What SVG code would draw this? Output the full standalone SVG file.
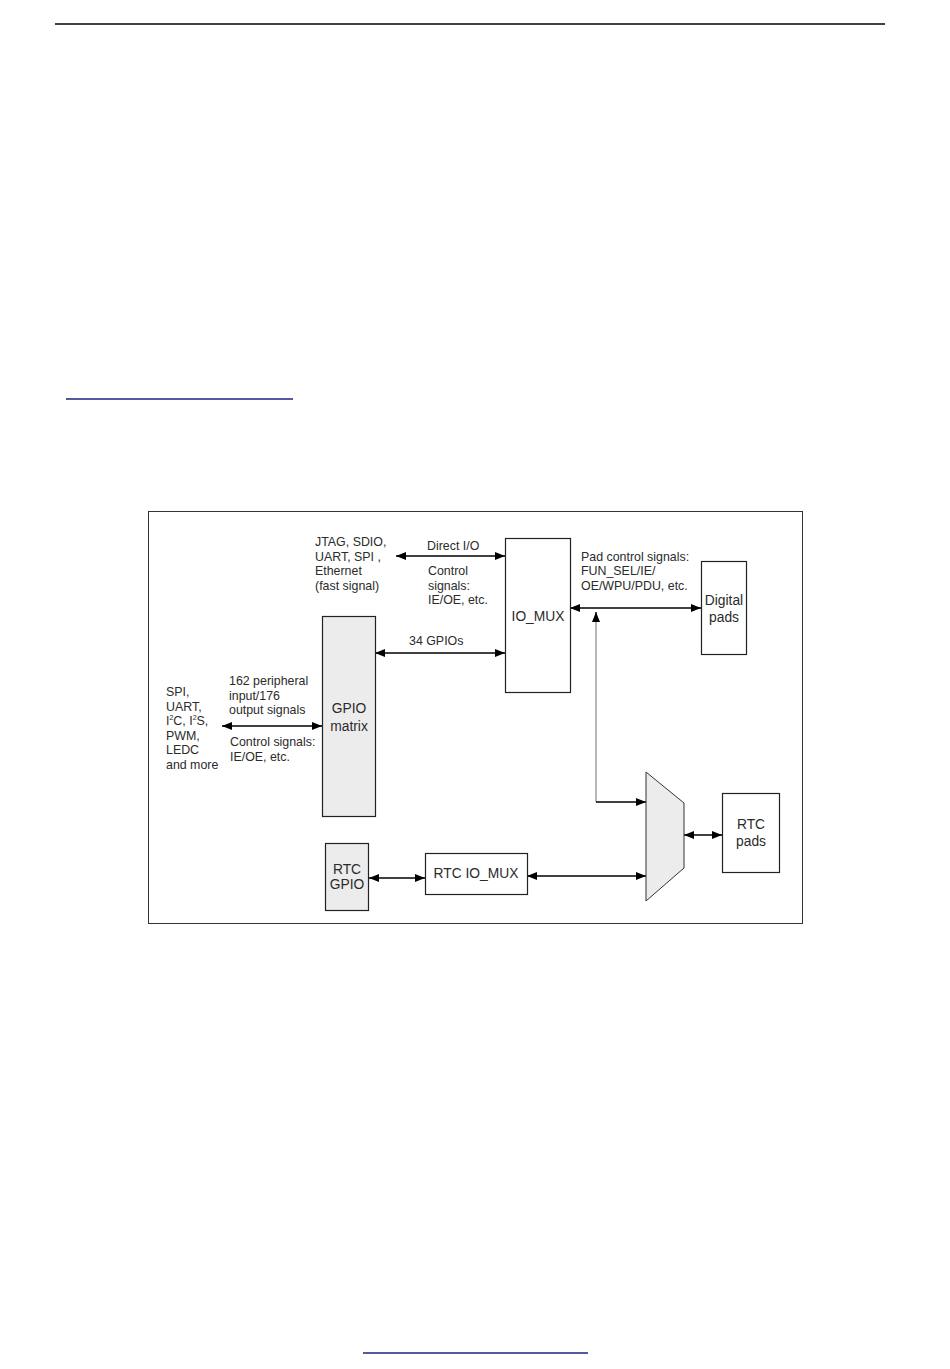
<svg xmlns="http://www.w3.org/2000/svg" width="950" height="1369" viewBox="0 0 950 1369">
<style>
text{font-family:"Liberation Sans",Arial,sans-serif;fill:#2b2b2b;}
.s{font-size:12.4px;}
.m{font-size:13.8px;}
.box{fill:#fff;stroke:#222;stroke-width:1.2;}
.gbox{fill:#ececec;stroke:#222;stroke-width:1.2;}
.ln{stroke:#000;stroke-width:1.3;fill:none;}
.gl{stroke:#888;stroke-width:1.2;fill:none;}
</style>
<defs>
<marker id="ah" viewBox="0 0 10 8" refX="10" refY="4" markerWidth="10" markerHeight="8" markerUnits="userSpaceOnUse" orient="auto-start-reverse">
<path d="M0,0 L10,4 L0,8 Z" fill="#000"/>
</marker>
</defs>
<rect width="950" height="1369" fill="#fff"/>
<line x1="55" y1="24" x2="885" y2="24" stroke="#000" stroke-width="1.3"/>
<line x1="66" y1="399" x2="293" y2="399" stroke="#1a237e" stroke-width="1.3"/>
<line x1="363" y1="1353" x2="588" y2="1353" stroke="#1a237e" stroke-width="1.3"/>
<rect x="148.5" y="511.5" width="654" height="412" fill="none" stroke="#333" stroke-width="1"/>

<g id="connectors">
<line class="ln" x1="396" y1="556" x2="505" y2="556" marker-start="url(#ah)" marker-end="url(#ah)"/>
<line class="ln" x1="375" y1="653" x2="505" y2="653" marker-start="url(#ah)" marker-end="url(#ah)"/>
<line class="ln" x1="222" y1="726" x2="322" y2="726" marker-start="url(#ah)" marker-end="url(#ah)"/>
<line class="ln" x1="570" y1="608" x2="701" y2="608" marker-start="url(#ah)" marker-end="url(#ah)"/>
<polyline class="gl" points="596,802 596,622"/>
<line class="ln" x1="596" y1="622" x2="596" y2="612" marker-end="url(#ah)"/>
<line class="ln" x1="596" y1="802" x2="646" y2="802" marker-end="url(#ah)"/>
<line class="ln" x1="527" y1="876" x2="646" y2="876" marker-start="url(#ah)" marker-end="url(#ah)"/>
<line class="ln" x1="684" y1="835" x2="722" y2="835" marker-start="url(#ah)" marker-end="url(#ah)"/>
<line class="ln" x1="369" y1="878" x2="425" y2="878" marker-start="url(#ah)" marker-end="url(#ah)"/>
</g>

<g id="labels">
<text class="s" x="315" y="546">JTAG, SDIO,</text>
<text class="s" x="315" y="561">UART, SPI ,</text>
<text class="s" x="315" y="575">Ethernet</text>
<text class="s" x="315" y="590">(fast signal)</text>
<text class="s" x="427" y="550">Direct I/O</text>
<text class="s" x="428" y="575">Control</text>
<text class="s" x="428" y="590">signals:</text>
<text class="s" x="428" y="604">IE/OE, etc.</text>
<text class="s" x="409" y="645">34 GPIOs</text>
<text class="s" x="229" y="685">162 peripheral</text>
<text class="s" x="229" y="700">input/176</text>
<text class="s" x="229" y="714">output signals</text>
<text class="s" x="230" y="746">Control signals:</text>
<text class="s" x="230" y="761">IE/OE, etc.</text>
<text class="s" x="166" y="696">SPI,</text>
<text class="s" x="166" y="711">UART,</text>
<text class="s" x="166" y="725">I<tspan font-size="7" dy="-5">2</tspan><tspan dy="5">C, I</tspan><tspan font-size="7" dy="-5">2</tspan><tspan dy="5">S,</tspan></text>
<text class="s" x="166" y="740">PWM,</text>
<text class="s" x="166" y="754">LEDC</text>
<text class="s" x="166" y="769">and more</text>
<text class="s" x="581" y="561">Pad control signals:</text>
<text class="s" x="581" y="575">FUN_SEL/IE/</text>
<text class="s" x="581" y="590">OE/WPU/PDU, etc.</text>
</g>

<g id="io_mux">
<rect class="box" x="505.5" y="538.5" width="65" height="154"/>
<text class="m" x="538" y="621" text-anchor="middle">IO_MUX</text>
</g>
<g id="gpio_matrix">
<rect class="gbox" x="322.5" y="616.5" width="53" height="200"/>
<text class="m" x="349" y="713" text-anchor="middle">GPIO</text>
<text class="m" x="349" y="731" text-anchor="middle">matrix</text>
</g>
<g id="digital_pads">
<rect class="box" x="701.5" y="561.5" width="45" height="93"/>
<text class="m" x="724" y="605" text-anchor="middle">Digital</text>
<text class="m" x="724" y="622" text-anchor="middle">pads</text>
</g>
<g id="mux">
<polygon points="646,772 684,803 684,868 646,901" fill="#ececec" stroke="#333" stroke-width="1"/>
</g>
<g id="rtc_pads">
<rect class="box" x="722.5" y="793.5" width="57" height="79"/>
<text class="m" x="751" y="829" text-anchor="middle">RTC</text>
<text class="m" x="751" y="846" text-anchor="middle">pads</text>
</g>
<g id="rtc_gpio">
<rect class="gbox" x="325.5" y="843.5" width="43" height="67"/>
<text class="m" x="347" y="874" text-anchor="middle">RTC</text>
<text class="m" x="347" y="889" text-anchor="middle">GPIO</text>
</g>
<g id="rtc_io_mux">
<rect class="box" x="425.5" y="853.5" width="102" height="41"/>
<text class="m" x="476" y="878" text-anchor="middle">RTC IO_MUX</text>
</g>
</svg>
